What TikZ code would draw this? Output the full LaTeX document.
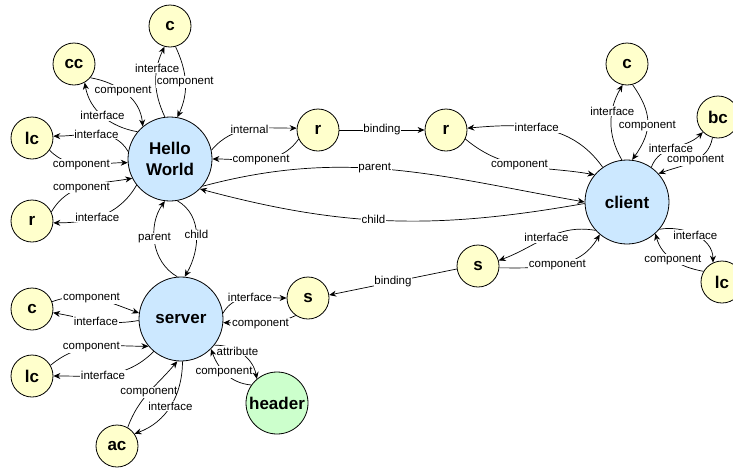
\documentclass[tikz,border=0pt]{standalone}
\usepackage{fontspec}
\setmainfont{Liberation Sans}
\usetikzlibrary{arrows.meta}
\definecolor{ybg}{RGB}{255,255,204}
\definecolor{bbg}{RGB}{204,232,255}
\definecolor{gbg}{RGB}{204,255,204}
\begin{document}
\begin{tikzpicture}[x=1pt,y=1pt,
  small/.style={circle,draw=black,line width=0.8pt,fill=ybg,minimum size=42pt,inner sep=0pt,font=\fontsize{17}{20}\selectfont\bfseries},
  big/.style={small,fill=bbg,minimum size=84pt,align=center,font=\fontsize{17}{21}\selectfont\bfseries},
  hdrstyle/.style={small,fill=gbg,minimum size=62pt},
  arr/.style={-{Stealth[length=7pt,width=6pt]},line width=0.7pt},
  lbl/.style={fill=white,inner sep=0.8pt,font=\fontsize{11.5}{12}\selectfont}
]
\useasboundingbox (0,0) rectangle (733,-469);
\fill[white] (0,0) rectangle (733,-469);
\clip (0,0) rectangle (733,-469);

% nodes
\node[big] (HW) at (170,-159) {Hello\\World};
\node[small] (cT) at (170,-26) {c};
\node[small] (cc) at (74,-64) {cc};
\node[small] (lcL) at (32,-138) {lc};
\node[small] (rL) at (32,-221) {r};
\node[small] (r1) at (318,-130) {r};
\node[small] (r2) at (446,-130) {r};
\node[big] (cl) at (627,-202) {client};
\node[small] (cC) at (627,-64) {c};
\node[small] (bc) at (718,-117) {bc};
\node[small] (lcC) at (722,-282) {lc};
\node[small] (sC) at (478,-266) {s};
\node[big] (srv) at (181,-319) {server};
\node[small] (sS) at (308,-298) {s};
\node[small] (cB) at (32,-309) {c};
\node[small] (lcB) at (32,-376) {lc};
\node[small] (ac) at (117,-446) {ac};
\node[hdrstyle] (hdr) at (277,-403) {header};

% Hello World group
\draw[arr] (HW.97) to[out=115,in=-115] node[lbl,pos=.7]{interface} (cT.255);
\draw[arr] (cT.285) to[out=-65,in=65] node[lbl,pos=.5]{component} (HW.80);
\draw[arr] (cc.-40) to[out=-10,in=95] node[lbl,pos=.45]{component} (HW.130);
\draw[arr] (HW.140) to[out=170,in=-80] node[lbl,pos=.5]{interface} (cc.-60);
\draw[arr] (HW.170) to[out=120,in=0] node[lbl,pos=.5]{interface} (lcL.5);
\draw[arr] (lcL.-35) to[out=-45,in=180] node[lbl,pos=.45]{component} (HW.185);
\draw[arr] (rL.25) to[out=60,in=190] node[lbl,pos=.45]{component} (HW.207);
\draw[arr] (HW.218) to[out=240,in=0] node[lbl,pos=.55]{interface} (rL.-5);
\draw[arr] (HW.12) to[out=50,in=180] node[lbl,pos=.5]{internal} (r1.175);
\draw[arr] (r1.205) to[out=235,in=0] node[lbl,pos=.5]{component} (HW.0);
\draw[arr] (r1) -- node[lbl]{binding} (r2);

% client group
\draw[arr] (cl.125) to[out=125,in=5] node[lbl,pos=.55]{interface} (r2.5);
\draw[arr] (r2.-25) to[out=-40,in=170] node[lbl,pos=.45]{component} (cl.140);
\draw[arr] (HW.-40) to[out=15,in=170] node[lbl,pos=.45]{parent} (cl.180);
\draw[arr] (cl.182) to[out=190,in=-15] node[lbl,pos=.55]{child} (HW.-45);
\draw[arr] (cl.97) to[out=120,in=-120] node[lbl,pos=.65]{interface} (cC.258);
\draw[arr] (cC.285) to[out=-55,in=55,looseness=1.2] node[lbl,pos=.55]{component} (cl.83);
\draw[arr] (cl.55) to[out=70,in=-135] node[lbl,pos=.45]{interface} (bc.225);
\draw[arr] (bc.255) to[out=-100,in=20] node[lbl,pos=.45]{component} (cl.42);
\draw[arr] (cl.-40) to[out=10,in=90] node[lbl,pos=.5]{interface} (lcC.115);
\draw[arr] (lcC.150) to[out=170,in=-75] node[lbl,pos=.5]{component} (cl.-48);
\draw[arr] (cl.-138) to[out=170,in=20] node[lbl,pos=.5]{interface} (sC.15);
\draw[arr] (sC.-5) to[out=0,in=-120] node[lbl,pos=.5]{component} (cl.-130);
\draw[arr] (sC.188) -- node[lbl]{binding} (sS.8);

% server group
\draw[arr] (srv.8) to[out=60,in=180] node[lbl,pos=.5]{interface} (sS.180);
\draw[arr] (sS.235) to[out=205,in=0] node[lbl,pos=.5]{component} (srv.-5);
\draw[arr] (srv.-38) to[out=0,in=100] node[lbl,pos=.4]{attribute} (hdr.130);
\draw[arr] (hdr.145) to[out=175,in=-70] node[lbl,pos=.55]{component} (srv.-45);
\draw[arr] (ac.60) to[out=70,in=-130] node[lbl,pos=.5]{component} (srv.-95);
\draw[arr] (srv.-88) to[out=-90,in=20] node[lbl,pos=.5]{interface} (ac.35);
\draw[arr] (lcB.30) to[out=40,in=180] node[lbl,pos=.45]{component} (srv.-140);
\draw[arr] (srv.-130) to[out=225,in=0] node[lbl,pos=.55]{interface} (lcB.0);
\draw[arr] (cB.20) to[out=20,in=160] node[lbl,pos=.45]{component} (srv.172);
\draw[arr] (srv.182) to[out=190,in=-10] node[lbl,pos=.5]{interface} (cB.-10);
\draw[arr] (srv.95) to[out=150,in=-125] node[lbl,pos=.55]{parent} (HW.-97);
\draw[arr] (HW.-80) to[out=-30,in=60] node[lbl,pos=.5]{child} (srv.85);
\end{tikzpicture}
\end{document}
